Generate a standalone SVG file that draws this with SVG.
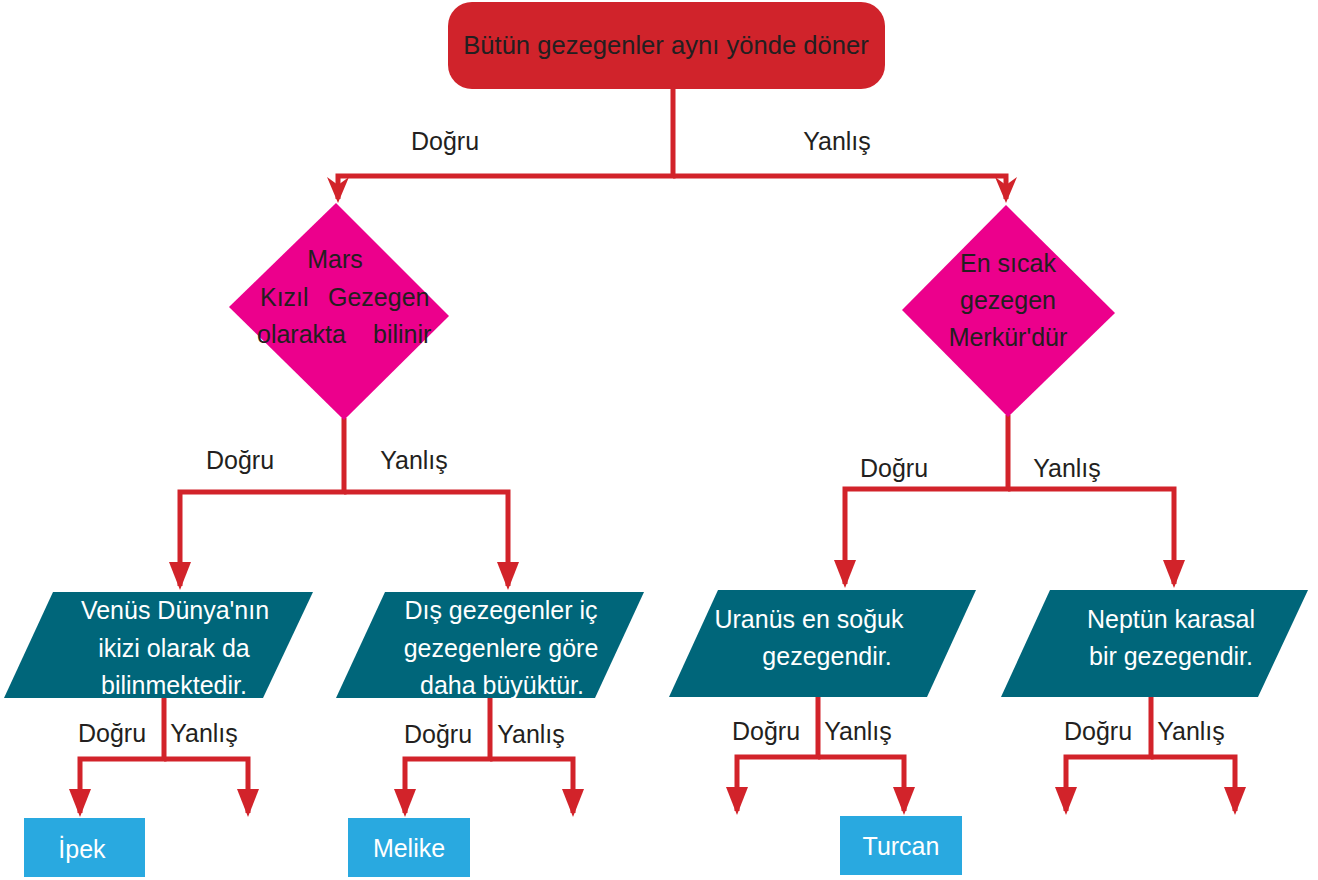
<svg xmlns="http://www.w3.org/2000/svg" width="1318" height="880" viewBox="0 0 1318 880">
<defs>
<style>
text{font-family:"Liberation Sans",Arial,sans-serif;font-size:25px}
.dk{fill:#231f20}
.wt{fill:#ffffff}
.mid{text-anchor:middle}
.line{fill:none;stroke:#d2232a;stroke-width:5}
.tri{marker-end:url(#tri)}
.barb{marker-end:url(#barb)}
.start{fill:#d0232b}
.dia{fill:#ec008c}
.par{fill:#00667a}
.res{fill:#29a9e0}
</style>
<marker id="tri" markerUnits="userSpaceOnUse" markerWidth="28" markerHeight="22" refX="24" refY="11" orient="auto">
<path d="M0,0 L28,11 L0,22 Z" fill="#d2232a"/>
</marker>
<marker id="barb" markerUnits="userSpaceOnUse" markerWidth="27" markerHeight="24" refX="22" refY="12" orient="auto">
<path d="M0,1 L26,12 L0,23 L8,12 Z" fill="#d2232a"/>
</marker>
</defs>

<g id="connectors">
<path class="line barb" d="M673,89 V176 H338 V199"/>
<path class="line barb" d="M673,176 H1006 V199"/>
<path class="line tri" d="M344,418 V492 H180 V586"/>
<path class="line tri" d="M344,492 H508 V586"/>
<path class="line tri" d="M1008,415 V489 H845 V584"/>
<path class="line tri" d="M1008,489 H1174 V584"/>
<path class="line tri" d="M164,698 V759 H80 V813"/>
<path class="line tri" d="M164,759 H248 V813"/>
<path class="line tri" d="M490,698 V759 H405 V813"/>
<path class="line tri" d="M490,759 H573 V813"/>
<path class="line tri" d="M818,697 V757 H737 V811"/>
<path class="line tri" d="M818,757 H904 V811"/>
<path class="line tri" d="M1151,697 V757 H1066 V811"/>
<path class="line tri" d="M1151,757 H1235 V811"/>
</g>

<g id="labels">
<text class="dk mid" x="445" y="150">Doğru</text>
<text class="dk mid" x="837" y="150">Yanlış</text>
<text class="dk mid" x="240" y="469">Doğru</text>
<text class="dk mid" x="414" y="469">Yanlış</text>
<text class="dk mid" x="894" y="477">Doğru</text>
<text class="dk mid" x="1067" y="477">Yanlış</text>
<text class="dk mid" x="112" y="742">Doğru</text>
<text class="dk mid" x="204" y="742">Yanlış</text>
<text class="dk mid" x="438" y="743">Doğru</text>
<text class="dk mid" x="531" y="743">Yanlış</text>
<text class="dk mid" x="766" y="740">Doğru</text>
<text class="dk mid" x="858" y="740">Yanlış</text>
<text class="dk mid" x="1098" y="740">Doğru</text>
<text class="dk mid" x="1191" y="740">Yanlış</text>
</g>

<g id="start">
<rect class="start" x="448" y="2" width="437" height="87" rx="24" ry="24"/>
<text class="dk mid" x="666" y="54" style="font-size:25.6px">Bütün gezegenler aynı yönde döner</text>
</g>

<g id="mars">
<polygon class="dia" points="336,203 449,316 344,420 229,307"/>
<text class="dk mid" x="335" y="268">Mars</text>
<text class="dk" x="260" y="306">Kızıl</text>
<text class="dk" x="328" y="306">Gezegen</text>
<text class="dk" x="257" y="343">olarakta</text>
<text class="dk" x="373" y="343">bilinir</text>
</g>

<g id="merkur">
<polygon class="dia" points="1006,205 1115,313 1008,417 902,310"/>
<text class="dk mid" x="1008" y="272">En sıcak</text>
<text class="dk mid" x="1008" y="309">gezegen</text>
<text class="dk mid" x="1008" y="346">Merkür'dür</text>
</g>

<g id="venus">
<polygon class="par" points="53,592 313,592 263,698 4,698"/>
<text class="wt mid" x="175" y="619">Venüs Dünya'nın</text>
<text class="wt mid" x="174" y="657">ikizi olarak da</text>
<text class="wt mid" x="174" y="694">bilinmektedir.</text>
</g>

<g id="dis">
<polygon class="par" points="385,592 644,592 595,698 336,698"/>
<text class="wt mid" x="501" y="619">Dış gezegenler iç</text>
<text class="wt mid" x="501" y="657">gezegenlere göre</text>
<text class="wt mid" x="502" y="694">daha büyüktür.</text>
</g>

<g id="uranus">
<polygon class="par" points="718,590 976,590 927,697 669,697"/>
<text class="wt mid" x="809" y="628">Uranüs en soğuk</text>
<text class="wt mid" x="827" y="665">gezegendir.</text>
</g>

<g id="neptun">
<polygon class="par" points="1050,590 1308,590 1258,697 1001,697"/>
<text class="wt mid" x="1171" y="628">Neptün karasal</text>
<text class="wt mid" x="1171" y="665">bir gezegendir.</text>
</g>

<g id="ipek">
<rect class="res" x="24" y="818" width="121" height="59"/>
<text class="wt mid" x="82" y="858">İpek</text>
</g>

<g id="melike">
<rect class="res" x="348" y="818" width="122" height="59"/>
<text class="wt mid" x="409" y="857">Melike</text>
</g>

<g id="turcan">
<rect class="res" x="840" y="816" width="122" height="59"/>
<text class="wt mid" x="901" y="855">Turcan</text>
</g>
</svg>
